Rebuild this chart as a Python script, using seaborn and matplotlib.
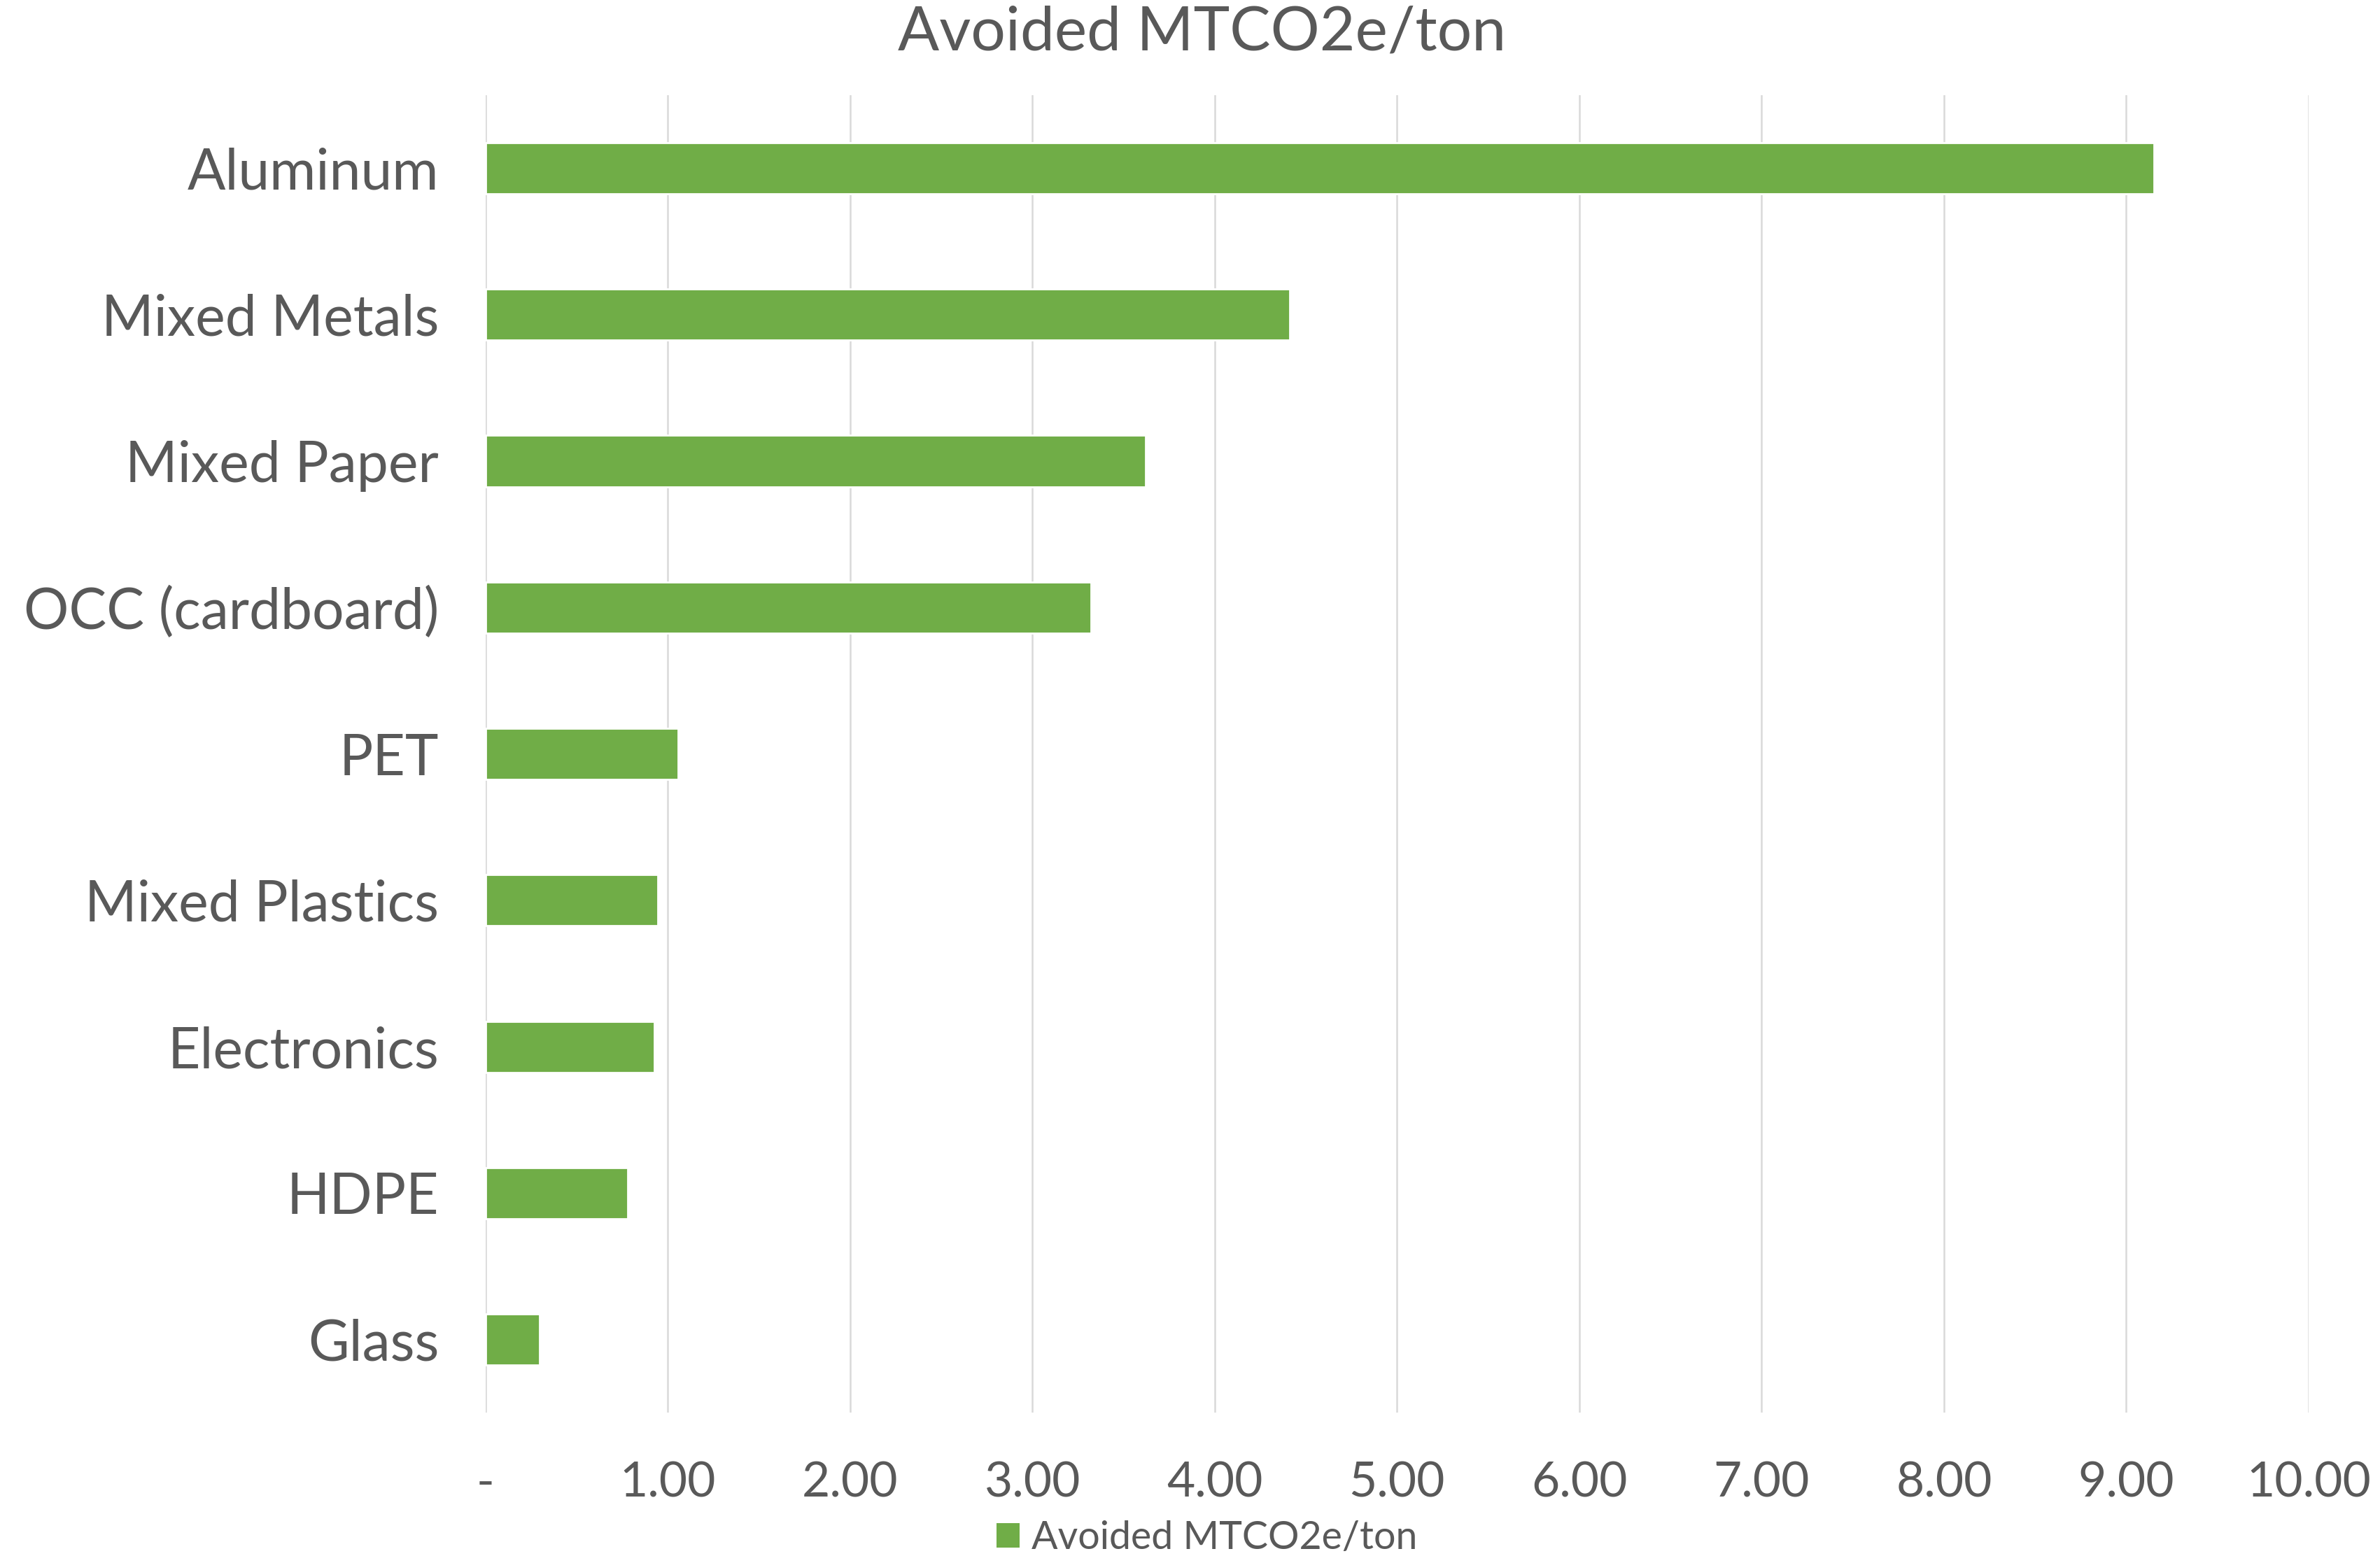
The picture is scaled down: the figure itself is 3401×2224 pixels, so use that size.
import matplotlib
matplotlib.use("Agg")
import matplotlib.pyplot as plt
import seaborn as sns
import pandas as pd
from matplotlib.ticker import FuncFormatter
from matplotlib.patches import Patch

categories = ["Aluminum", "Mixed Metals", "Mixed Paper", "OCC (cardboard)", "PET",
              "Mixed Plastics", "Electronics", "HDPE", "Glass"]
values = [9.15, 4.41, 3.62, 3.32, 1.055, 0.945, 0.925, 0.78, 0.297]
series_name = "Avoided MTCO2e/ton"
x_ticks = [0, 1, 2, 3, 4, 5, 6, 7, 8, 9, 10]

GREEN = "#70AD47"
TEXT = "#595959"
GRID = "#D9D9D9"

sns.set_theme(style="white")
plt.rcParams["font.family"] = ["Lato", "DejaVu Sans"]

df = pd.DataFrame({"category": categories, "value": values})

fig = plt.figure(figsize=(17.005, 11.12), dpi=200)
ax = fig.add_axes([0.204, 0.092, 0.766, 0.847])

sns.barplot(data=df, x="value", y="category", orient="h", color=GREEN,
            width=0.35, ax=ax, saturation=1, zorder=3)

ax.set_xlim(0, 10)
ax.set_ylim(8.5, -0.5)
ax.set_xticks(x_ticks)
ax.xaxis.set_major_formatter(FuncFormatter(lambda v, p: "-" if v == 0 else f"{v:.2f}"))
ax.grid(axis="x", color=GRID, linewidth=0.9, zorder=0)
ax.grid(axis="y", visible=False)
for s in ax.spines.values():
    s.set_visible(False)
ax.set_xlabel("")
ax.set_ylabel("")
ax.tick_params(axis="y", length=0, pad=24, labelsize=29, labelcolor=TEXT)
ax.tick_params(axis="x", length=0, pad=25, labelsize=25, labelcolor=TEXT)

fig.suptitle(series_name, x=0.505, y=0.979, fontsize=31.5, color=TEXT, va="center")

handle = Patch(facecolor=GREEN, edgecolor="none", label=series_name)
fig.legend(handles=[handle], loc="center", bbox_to_anchor=(0.507, 0.0115),
           frameon=False, fontsize=20, labelcolor=TEXT, handlelength=0.6,
           handleheight=0.6, handletextpad=0.3, borderpad=0, borderaxespad=0)

fig.savefig("out.png", dpi=200)
